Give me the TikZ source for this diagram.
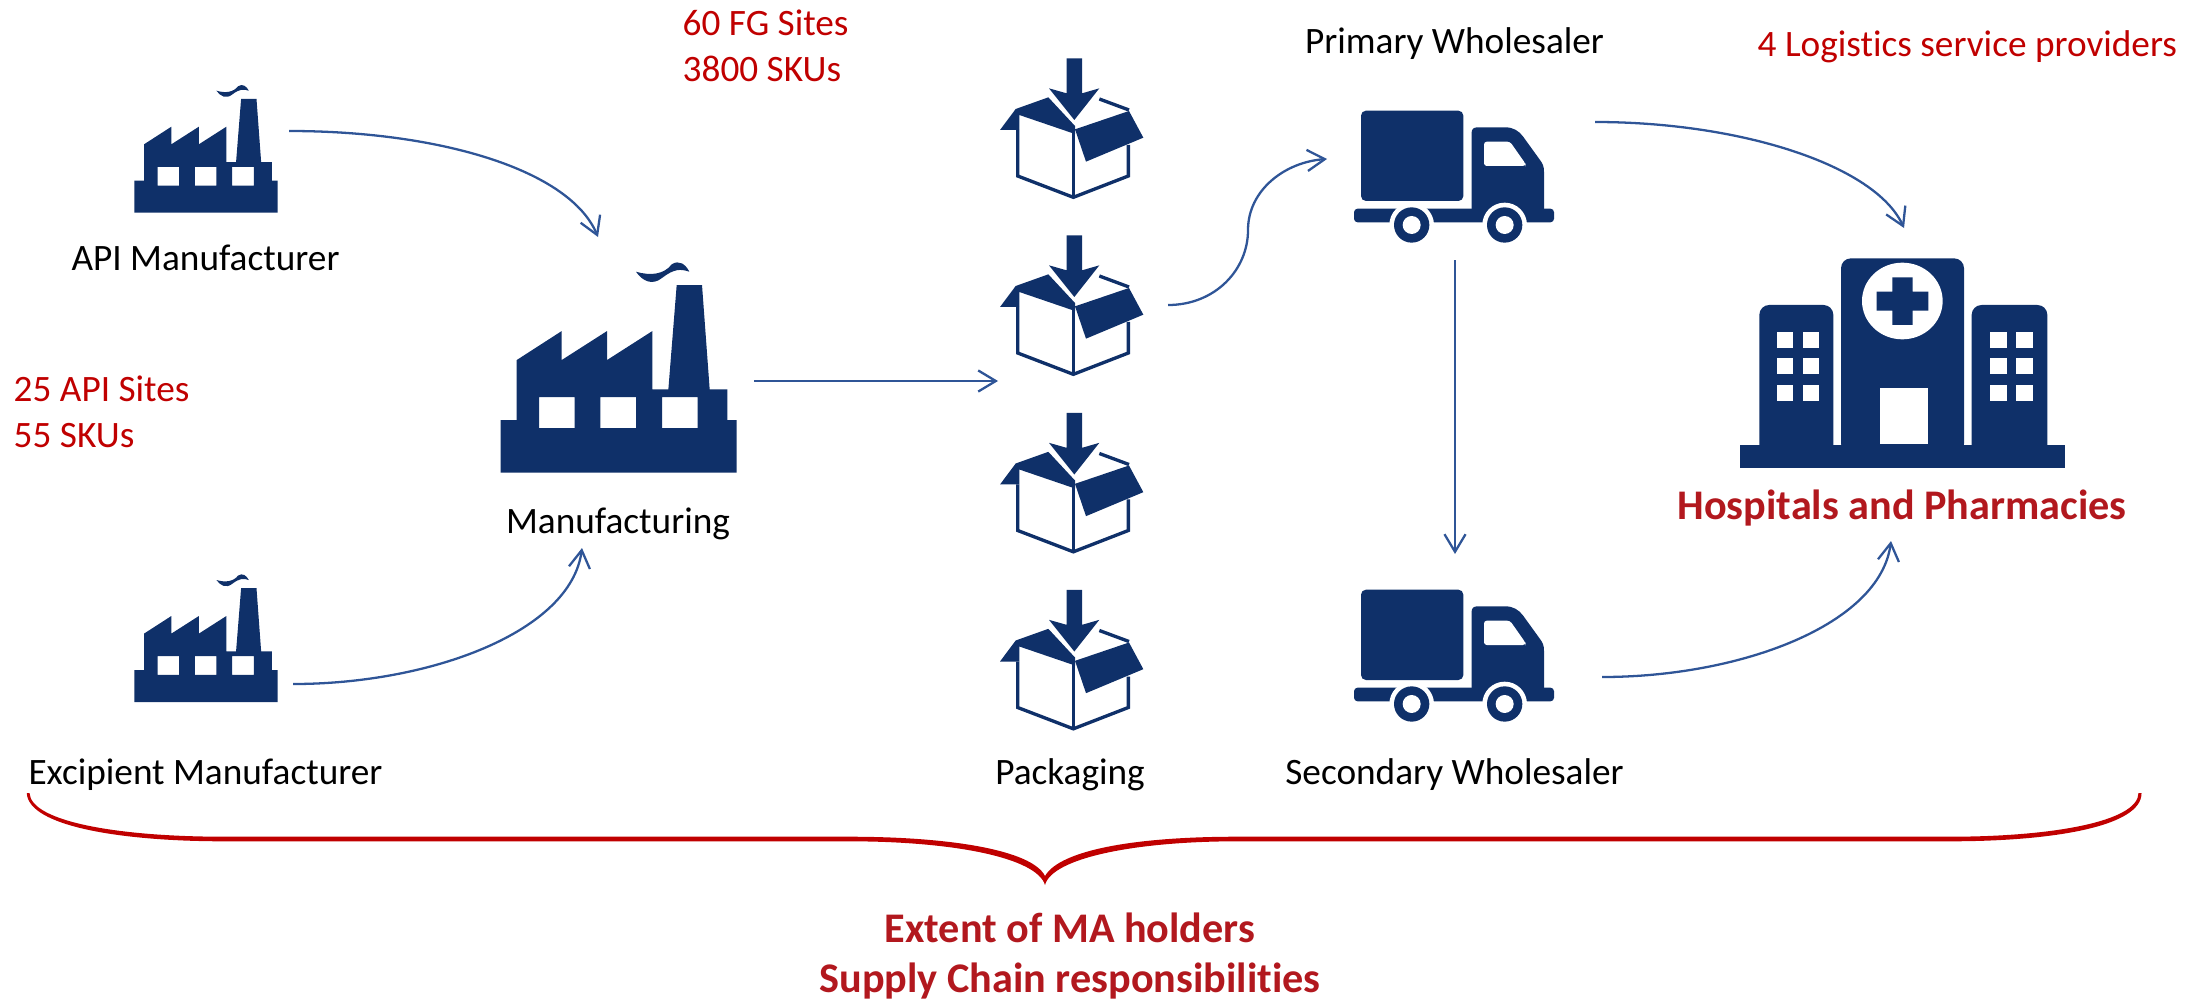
\documentclass[tikz,border=0pt]{standalone}
\usepackage{fontspec}
\setmainfont{Carlito}[Ligatures=NoCommon]
\usepackage{tikz}
\usetikzlibrary{arrows.meta}
\definecolor{iconblue}{HTML}{0F3069}
\definecolor{arrowblue}{HTML}{2F5597}
\definecolor{notered}{HTML}{C00000}
\definecolor{headred}{HTML}{B2181E}

\tikzset{
    flow/.style={draw=arrowblue, line width=0.65pt, -{Straight Barb[length=5pt,width=6pt]}},
    plainlabel/.style={font=\fontsize{10.6}{12.8}\selectfont, inner sep=0pt, anchor=base},
    notelabel/.style={font=\fontsize{10.6}{12.8}\selectfont, text=notered, inner sep=0pt, align=left, anchor=base west},
    headlabel/.style={font=\fontsize{12}{14}\selectfont\bfseries, text=headred, inner sep=0pt, align=center},
    factory/.pic={
        \fill[iconblue, even odd rule] (0,0) -- (0,-158) -- (48,-158) -- (48,-338) -- (183,-425) -- (183,-338) -- (319,-425) -- (319,-338) -- (455,-425) -- (455,-250) -- (503,-250) -- (528,-563) -- (604,-563) -- (627,-250) -- (680,-250) -- (680,-158) -- (708,-158) -- (708,0) -- cycle
            (115,-227) rectangle (222,-134) (299,-227) rectangle (406,-134) (484,-227) rectangle (591,-134);
        % smoke
        \fill[iconblue] (406,-603) .. controls (450,-590) and (490,-595) .. (513,-625) .. controls (535,-640) and (555,-625) .. (566,-603) .. controls (540,-612) and (520,-612) .. (485,-585) .. controls (455,-560) and (425,-575) .. (406,-603) -- cycle;
    },
    packbox/.pic={
        \draw[iconblue, line width=0.95pt] (113,270) -- (113,408) -- (280,472) -- (445,408) -- (445,315);
        \draw[iconblue, line width=0.95pt] (280,275) -- (280,472);
        \draw[iconblue, line width=0.95pt] (358,177) -- (447,210);
        % flaps
        \fill[iconblue] (60,270) -- (107,207) -- (205,172) -- (285,258) -- (285,282) -- (118,225) -- (118,270) -- cycle;
        \fill[iconblue] (285,268) -- (447,213) -- (490,293) -- (318,365) -- cycle;
        % arrow
        \fill[iconblue] (260,55) -- (306,55) -- (306,160) -- (358,145) -- (283,240) -- (207,145) -- (260,160) -- cycle;
    },
    truck/.pic={
        \fill[iconblue, rounded corners=1.4pt] (63,62) rectangle (370,333);
        \fill[iconblue] (395,360) -- (395,127) .. controls (395,117) and (402,112) .. (412,112) -- (495,112) .. controls (520,112) and (535,122) .. (548,138) -- (600,210) .. controls (608,220) and (612,230) .. (612,245) -- (612,360) -- cycle;
        \fill[white, rounded corners=0.8pt] (432,155) -- (510,155) -- (557,222) -- (557,228) -- (432,228) -- cycle;
        \fill[iconblue, rounded corners=1pt] (42,356) rectangle (642,397);
        \foreach \wheelx in {215,494} {
            \fill[white] (\wheelx,405) circle (67);
            \fill[iconblue] (\wheelx,405) circle (53);
            \fill[white] (\wheelx,405) circle (27);
        }
    },
    hospital/.pic={
        \fill[iconblue] (30,616) rectangle (1005,683);
        \fill[iconblue, rounded corners=2.8pt] (333,640) -- (333,55) -- (702,55) -- (702,640) -- cycle;
        \fill[iconblue, rounded corners=2.8pt] (88,640) -- (88,195) -- (310,195) [sharp corners] -- (310,640) -- cycle;
        \fill[iconblue, rounded corners=2.8pt] (952,640) -- (952,195) -- (725,195) [sharp corners] -- (725,640) -- cycle;
        \fill[white] (517,183) ellipse (121 and 115);
        \fill[iconblue] (487,112) rectangle (548,255) (440,155) rectangle (595,212);
        \fill[white] (449,444) rectangle (595,613);
        \foreach \winx in {140,218,781,858} {
            \foreach \winy in {277,355,436} {
                \fill[white] (\winx,\winy) rectangle ++(50,48);
            }
        }
    }
}

\begin{document}
\begin{tikzpicture}[x=0.01cm, y=-0.01cm]
\useasboundingbox (0,0) rectangle (2201,1000);

% icons
\pic[scale=0.2023] at (134.3,212.7) {factory};
\pic[scale=0.2023] at (134.3,702) {factory};
\pic[scale=0.3333] at (500.7,472.7) {factory};
\foreach \boxy in {40,217,394.5,571.5} {
    \pic[scale=0.3333] at (980,\boxy) {packbox};
}
\pic[scale=0.3333] at (1340,90) {truck};
\pic[scale=0.3333] at (1340,569) {truck};
\pic[scale=0.3333] at (1730,240) {hospital};

% labels
\node[plainlabel] (apilabel) at (205.5,270) {API Manufacturer};
\node[plainlabel] (excipientlabel) at (205.5,784) {Excipient Manufacturer};
\node[plainlabel] (mfglabel) at (618,533) {Manufacturing};
\node[plainlabel] (packlabel) at (1070,784) {Packaging};
\node[plainlabel] (primarylabel) at (1454.5,54) {Primary Wholesaler};
\node[plainlabel] (secondarylabel) at (1454.5,784) {Secondary Wholesaler};

\node[notelabel] (apinote) at (13,447) {25 API Sites\\55 SKUs};
\node[notelabel] (fgnote) at (682,81) {60 FG Sites\\3800 SKUs};
\node[notelabel] (lspnote) at (1757,57) {4 Logistics service providers};

\node[headlabel] (hosplabel) at (1902,508) {Hospitals and Pharmacies};
\node[headlabel] (extentlabel) at (1070,956) {Extent of MA holders\\Supply Chain responsibilities};

% connector ends
\coordinate (apiout) at (289,131);
\coordinate (mfgtop) at (598,237);
\coordinate (excout) at (293,684);
\coordinate (mfgbot) at (582,548);
\coordinate (mfgout) at (754,381);
\coordinate (packin) at (998,381);
\coordinate (packout) at (1168,305);
\coordinate (bend) at (1248,230);
\coordinate (primin) at (1327,159);
\coordinate (primout) at (1595,122);
\coordinate (hosptop) at (1904,228);
\coordinate (primdown) at (1455,260);
\coordinate (secin) at (1455,554);
\coordinate (secout) at (1602,677);
\coordinate (hospbot) at (1891,541);

\draw[flow] (apiout) .. controls (440,131) and (570,170) .. (mfgtop);
\draw[flow] (excout) .. controls (430,684) and (571,632) .. (mfgbot);
\draw[flow] (mfgout) -- (packin);
\draw[flow] (packout) .. controls (1215,305) and (1248,270) .. (bend) .. controls (1248,190) and (1285,162) .. (primin);
\draw[flow] (primout) .. controls (1740,122) and (1875,165) .. (hosptop);
\draw[flow] (primdown) -- (secin);
\draw[flow] (secout) .. controls (1740,677) and (1880,625) .. (hospbot);

% brace
\coordinate (bracetip) at (1045,885);
\fill[notered] (26.8,793) .. controls (28,826) and (120,841.3) .. (224,841.3) -- (849,841.3) .. controls (955,841.3) and (1037,858) .. (bracetip) .. controls (1052,858) and (1135,841.3) .. (1237,841.3) -- (1950,841.3) .. controls (2055,841.3) and (2142,826) .. (2141.5,793) -- (2138.5,793) .. controls (2138,822) and (2050,836.7) .. (1950,836.7) -- (1237,836.7) .. controls (1135,836.7) and (1060,850) .. (1045,876) .. controls (1032,850) and (950,836.7) .. (849,836.7) -- (224,836.7) .. controls (120,836.7) and (31,822) .. (29.5,793) -- cycle;
\end{tikzpicture}
\end{document}
